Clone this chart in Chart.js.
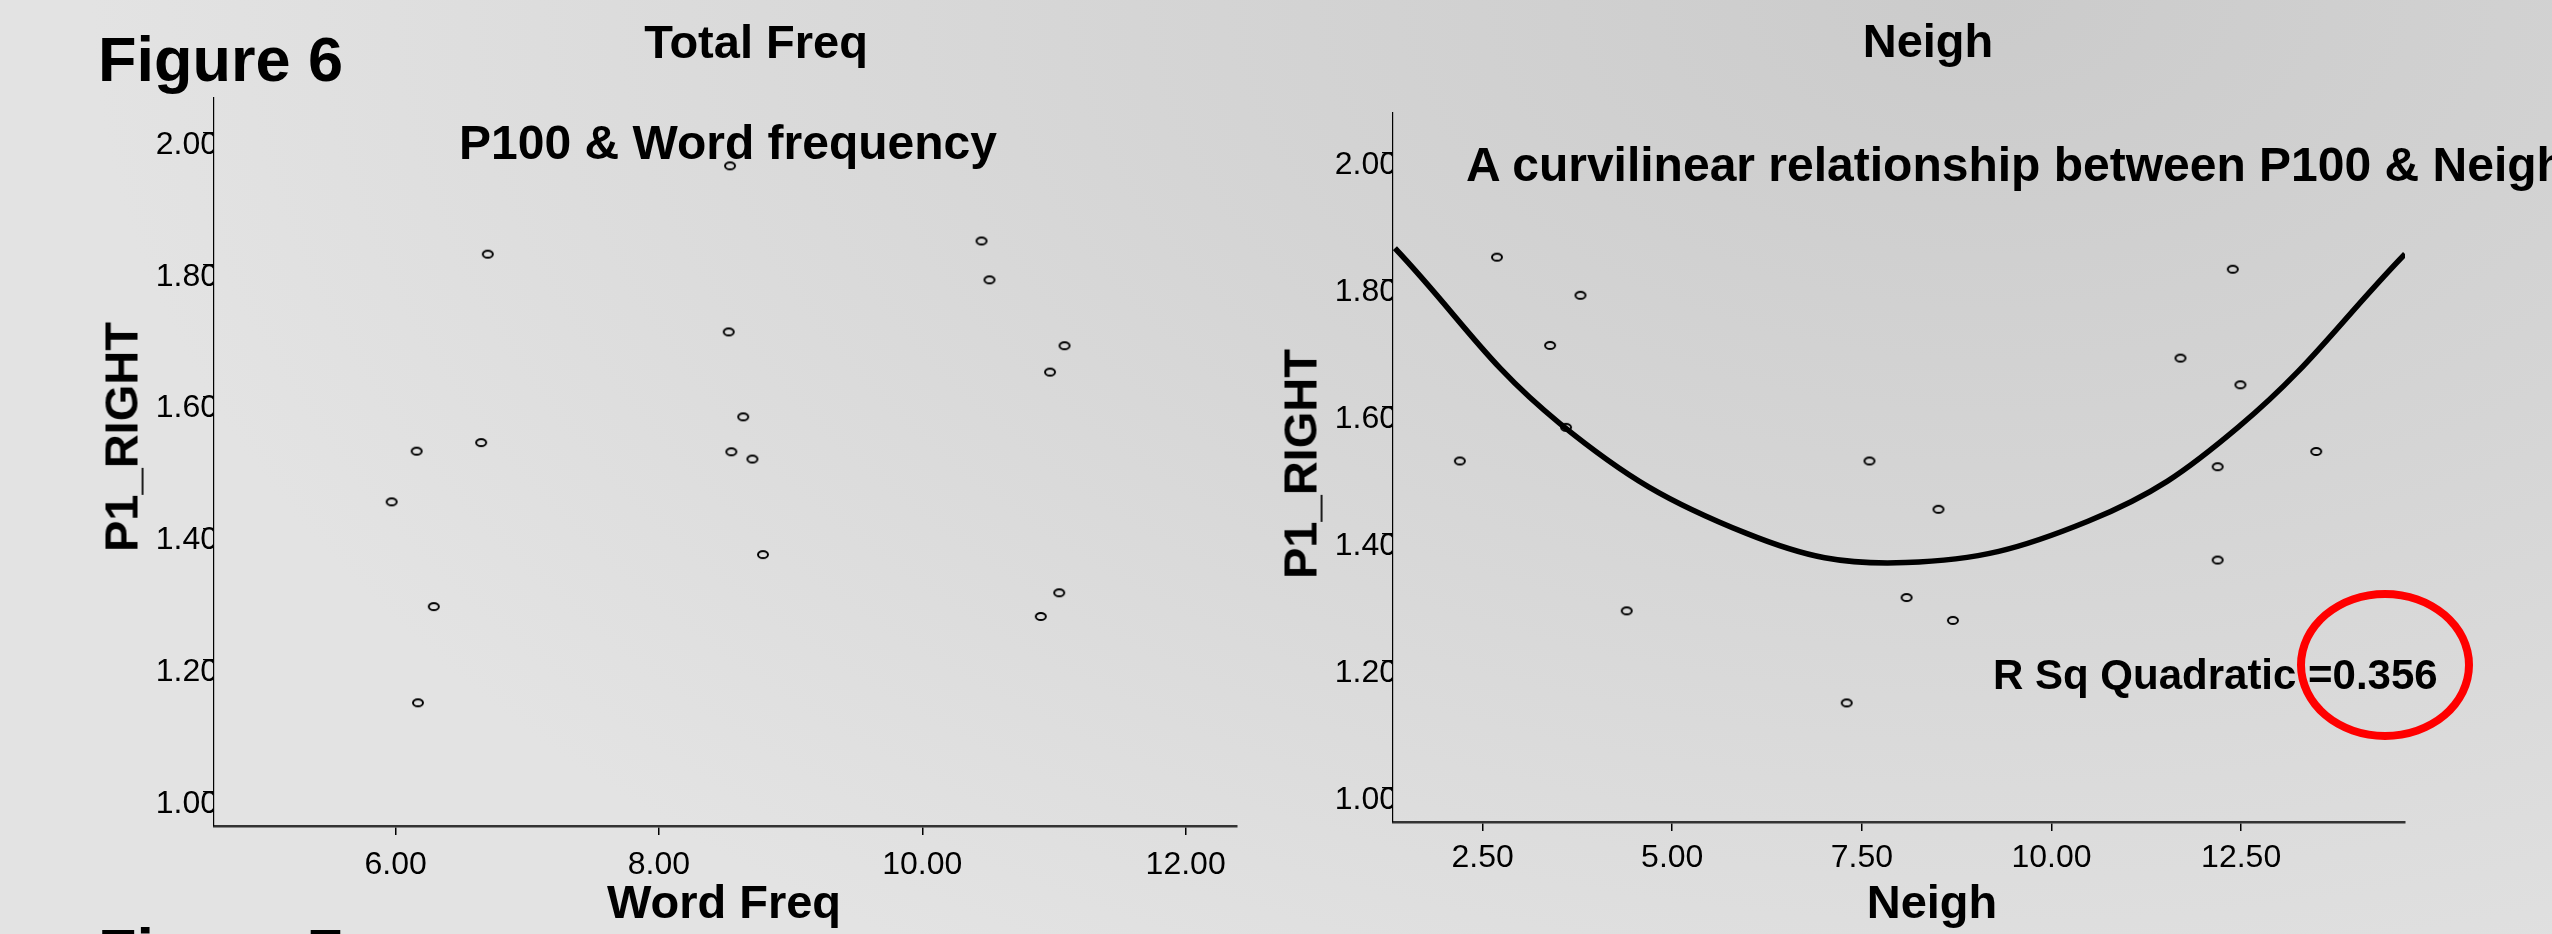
<!DOCTYPE html>
<html>
<head>
<meta charset="utf-8">
<title>Figure 6</title>
<script src="https://cdn.jsdelivr.net/npm/chart.js@4.4.0/dist/chart.umd.min.js"></script>
<style>
  html, body { margin: 0; padding: 0; }
  body {
    width: 2552px; height: 934px; overflow: hidden; position: relative;
    background: radial-gradient(ellipse 1900px 1150px at 78% 0%, #cbcbcb 0%, #d5d5d5 45%, #e3e3e3 100%);
    font-family: "Liberation Sans", Arial, sans-serif;
  }
  canvas { position: absolute; top: 0; }
  #leftChart { left: 0; }
  #rightChart { left: 1270px; }
  .txt { position: absolute; white-space: nowrap; line-height: 1; font-weight: bold; color: #000; }
  .mid { transform: translateX(-50%); }
  .rot { transform: translate(-50%, -50%) rotate(-90deg); }
  #ring {
    position: absolute; left: 2297px; top: 590px; width: 176px; height: 150px;
    box-sizing: border-box; border: 8px solid #ff0000; border-radius: 50%;
  }
</style>
</head>
<body>
<canvas id="leftChart" width="1270" height="934"></canvas>
<canvas id="rightChart" width="1282" height="934"></canvas>

<div class="txt" style="left:98px; top:28px; font-size:63px;">Figure 6</div>
<div class="txt" style="left:98px; top:920px; font-size:63px;">Figure 7</div>

<div class="txt mid" style="left:756px; top:18px; font-size:47px;">Total Freq</div>
<div class="txt mid" style="left:728px; top:119px; font-size:48px;">P100 &amp; Word frequency</div>
<div class="txt mid" style="left:724px; top:878px; font-size:47px;">Word Freq</div>
<div class="txt rot" style="left:121px; top:437px; font-size:47px;">P1_RIGHT</div>

<div class="txt mid" style="left:1928px; top:17px; font-size:47px;">Neigh</div>
<div class="txt" style="left:1466px; top:141px; font-size:48px;">A curvilinear relationship between P100 &amp; Neigh</div>
<div class="txt mid" style="left:1932px; top:878px; font-size:47px;">Neigh</div>
<div class="txt rot" style="left:1300px; top:464px; font-size:47px;">P1_RIGHT</div>

<div class="txt" style="left:1993px; top:654px; font-size:42px;">R Sq Quadratic =0.356</div>
<div id="ring"></div>

<script>
// left panel: P1_RIGHT against Word Freq
const wordFreq = [8.54, 10.45, 6.70, 10.51, 8.53, 11.08, 10.97, 8.64, 6.65, 6.16, 8.55, 8.71, 5.97, 8.79, 11.04, 6.29, 10.90, 6.17];
const p1RightWord = [1.950, 1.836, 1.816, 1.777, 1.698, 1.677, 1.637, 1.569, 1.530, 1.517, 1.516, 1.505, 1.440, 1.360, 1.302, 1.281, 1.266, 1.135];

// right panel: P1_RIGHT against Neigh
const neigh = [2.69, 12.39, 3.79, 3.39, 11.70, 12.49, 3.60, 13.49, 2.20, 7.60, 12.19, 8.51, 12.19, 8.09, 4.40, 8.70, 7.30];
const p1RightNeigh = [1.836, 1.817, 1.776, 1.697, 1.677, 1.635, 1.568, 1.530, 1.515, 1.515, 1.506, 1.439, 1.359, 1.300, 1.279, 1.264, 1.134];

// quadratic fit line
const fitX = [1.345, 3.52, 5.98, 8.08, 10.48, 12.47, 14.66];
const fitY = [1.850, 1.574, 1.401, 1.355, 1.420, 1.569, 1.841];

// tick labels
const yTicks = [1.00, 1.20, 1.40, 1.60, 1.80, 2.00];
const wordTicks = [6, 8, 10, 12];
const neighTicks = [2.5, 5, 7.5, 10, 12.5];

Chart.defaults.font.family = '"Liberation Sans", Arial, sans-serif';
Chart.defaults.color = '#000';

// small hollow oval marker like the SPSS one
function ringMarker() {
    const c = document.createElement('canvas');
    c.width = 14; c.height = 11;
    const g = c.getContext('2d');
    g.lineWidth = 2;
    g.strokeStyle = '#000';
    g.beginPath();
    g.ellipse(7, 5.5, 5, 3.6, 0, 0, Math.PI * 2);
    g.stroke();
    return c;
}
const marker = ringMarker();

function toPoints(xs, ys) {
    return xs.map((x, i) => ({ x: x, y: ys[i] }));
}

function makeScales(o) {
    return {
        x: {
            type: 'linear', min: o.xMin, max: o.xMax,
            afterBuildTicks: s => { s.ticks = o.xTicks.map(v => ({ value: v })); },
            afterFit: s => { s.height = o.xHeight; },
            grid: { drawOnChartArea: false, drawTicks: true, tickLength: 9, color: '#000', lineWidth: 1.5 },
            border: { color: '#333', width: 2.5 },
            ticks: { padding: o.xPad, font: { size: 32 }, maxRotation: 0, callback: v => v.toFixed(2) }
        },
        y: {
            type: 'linear', min: o.yMin, max: o.yMax,
            afterBuildTicks: s => { s.ticks = yTicks.map(v => ({ value: v })); },
            afterFit: s => { s.width = o.yWidth; },
            grid: { drawOnChartArea: false, drawTicks: true, tickLength: 11, color: '#000', lineWidth: 1.2 },
            border: { color: '#000', width: 1.2 },
            ticks: { padding: -15, labelOffset: 12, font: { size: 32 }, callback: v => v.toFixed(2) }
        }
    };
}

const common = {
    responsive: false,
    maintainAspectRatio: false,
    devicePixelRatio: 1,
    animation: false,
    events: [],
    plugins: { legend: { display: false }, tooltip: { enabled: false } }
};

// Setup left scatter (Word Freq)
new Chart(document.getElementById('leftChart').getContext('2d'), {
    type: 'scatter',
    data: {
        datasets: [{
            data: toPoints(wordFreq, p1RightWord),
            pointStyle: marker,
            pointRadius: 5
        }]
    },
    options: Object.assign({}, common, {
        layout: { padding: { top: 98, right: 33, left: 0, bottom: 0 } },
        scales: makeScales({ xMin: 4.621, xMax: 12.39, yMin: 0.948, yMax: 2.053,
            xTicks: wordTicks, xHeight: 108, yWidth: 214, xPad: 11 })
    })
});

// Setup right scatter (Neigh) with the quadratic curve on top
new Chart(document.getElementById('rightChart').getContext('2d'), {
    type: 'scatter',
    data: {
        datasets: [{
            data: toPoints(fitX, fitY),
            showLine: true,
            borderColor: '#000',
            borderWidth: 5.5,
            pointRadius: 0,
            tension: 0.4,
            fill: false
        }, {
            data: toPoints(neigh, p1RightNeigh),
            pointStyle: marker,
            pointRadius: 5
        }]
    },
    options: Object.assign({}, common, {
        layout: { padding: { top: 113, right: 147, left: 0, bottom: 0 } },
        scales: makeScales({ xMin: 1.319, xMax: 14.66, yMin: 0.9465, yMax: 2.063,
            xTicks: neighTicks, xHeight: 112, yWidth: 123, xPad: 8 })
    })
});
</script>
</body>
</html>
